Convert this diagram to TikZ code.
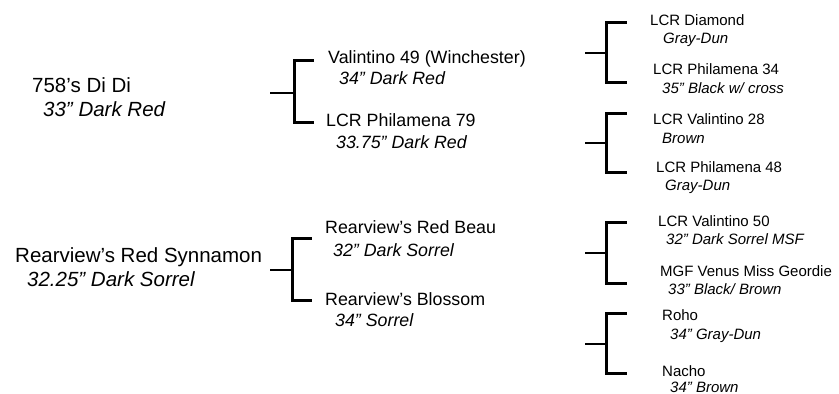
\documentclass[tikz,border=0pt]{standalone}
\usepackage{fontspec}
\setmainfont{Liberation Sans}
\tikzset{
  x=1pt, y=-1pt,
  lvA/.style={anchor=base west, inner sep=0pt, font=\fontsize{20.5}{24}\selectfont},
  lvAi/.style={lvA, font=\fontsize{20.5}{24}\selectfont\itshape},
  lvB/.style={anchor=base west, inner sep=0pt, font=\fontsize{17.8}{21}\selectfont},
  lvBi/.style={lvB, font=\fontsize{17.8}{21}\selectfont\itshape},
  lvC/.style={anchor=base west, inner sep=0pt, font=\fontsize{15}{18}\selectfont},
  lvCi/.style={lvC, font=\fontsize{15}{18}\selectfont\itshape},
  bracketline/.style={line width=3pt, line cap=rect, line join=miter},
  tickline/.style={line width=2.6pt},
}
\newcommand{\mybracket}[7]{%
  % #1 name, #2 tick x, #3 vertical x, #4 arm x, #5 top y, #6 mid y, #7 bottom y
  \coordinate (#1t) at (#2,#6);
  \coordinate (#1m) at (#3,#6);
  \coordinate (#1a) at (#4,#5);
  \coordinate (#1b) at (#4,#7);
  \coordinate (#1v) at (#3,0);
  \draw[bracketline] (#1a) -- (#1a -| #1v) -- (#1b -| #1v) -- (#1b);
  \draw[tickline] (#1t) -- (#1m);
}
\begin{document}
\begin{tikzpicture}
\useasboundingbox (0,0) rectangle (839,394);
\fill[white] (0,0) rectangle (839,394);

% generation 1
\node[lvA]  (g1a)  at (32,92)  {758’s Di Di};
\node[lvAi] (g1ad) at (43,116) {33” Dark Red};
\node[lvA]  (g1b)  at (15,262) {Rearview’s Red Synnamon};
\node[lvAi] (g1bd) at (27,286) {32.25” Dark Sorrel};

% generation 2
\node[lvB]  (g2a)  at (328,63)  {Valintino 49 (Winchester)};
\node[lvBi] (g2ad) at (339,84)  {34” Dark Red};
\node[lvB]  (g2b)  at (326,126) {LCR Philamena 79};
\node[lvBi] (g2bd) at (336,148) {33.75” Dark Red};
\node[lvB]  (g2c)  at (325,233) {Rearview’s Red Beau};
\node[lvBi] (g2cd) at (333,256) {32” Dark Sorrel};
\node[lvB]  (g2d)  at (325,305) {Rearview’s Blossom};
\node[lvBi] (g2dd) at (335,326) {34” Sorrel};

% generation 3
\node[lvC]  (g3a)  at (650,25)  {LCR Diamond};
\node[lvCi] (g3ad) at (663,43)  {Gray-Dun};
\node[lvC]  (g3b)  at (653,74)  {LCR Philamena 34};
\node[lvCi] (g3bd) at (662,93)  {35” Black w/ cross};
\node[lvC]  (g3c)  at (653,124) {LCR Valintino 28};
\node[lvCi] (g3cd) at (662,143) {Brown};
\node[lvC]  (g3d)  at (656,172) {LCR Philamena 48};
\node[lvCi] (g3dd) at (665,190) {Gray-Dun};
\node[lvC]  (g3e)  at (658,226) {LCR Valintino 50};
\node[lvCi] (g3ed) at (666,244) {32” Dark Sorrel MSF};
\node[lvC]  (g3f)  at (660,276) {MGF Venus Miss Geordie};
\node[lvCi] (g3fd) at (668,294) {33” Black/ Brown};
\node[lvC]  (g3g)  at (662,320) {Roho};
\node[lvCi] (g3gd) at (670,339) {34” Gray-Dun};
\node[lvC]  (g3h)  at (662,376) {Nacho};
\node[lvCi] (g3hd) at (670,392) {34” Brown};

% brackets
\mybracket{bA}{270}{294}{312}{60}{93}{122}
\mybracket{bB}{270}{292}{310}{238}{270}{300}
\mybracket{bC}{585}{606}{625}{22}{53}{82}
\mybracket{bD}{585}{606}{625}{113}{143}{172}
\mybracket{bE}{585}{606}{625}{222}{253}{283}
\mybracket{bF}{585}{606}{625}{313}{344}{373}
\end{tikzpicture}
\end{document}
